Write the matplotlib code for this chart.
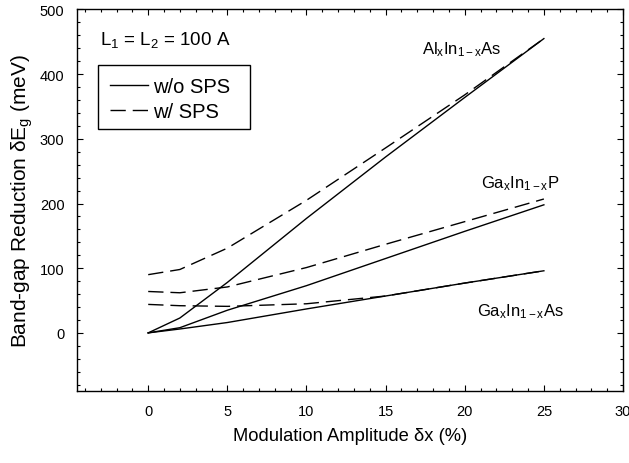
import matplotlib
matplotlib.use("Agg")
import matplotlib.pyplot as plt
from matplotlib.ticker import MultipleLocator
from matplotlib.patches import Rectangle

plt.rcParams['font.family'] = ['Liberation Sans', 'DejaVu Sans']
plt.rcParams['mathtext.fontset'] = 'custom'
plt.rcParams['mathtext.rm'] = 'Liberation Sans'
plt.rcParams['mathtext.it'] = 'Liberation Sans'

# Data (modulation amplitude in %, band-gap reduction in meV)
x = [0, 2, 5, 10, 15, 20, 25]
alinas_wo = [0, 23, 78, 177, 272, 364, 455]
alinas_w = [90, 98, 131, 205, 286, 368, 455]
gainp_wo = [0, 8, 35, 73, 115, 157, 198]
gainp_w = [64, 62, 71, 101, 137, 172, 207]
gainas_wo = [0, 6, 16, 37, 57, 77, 96]
gainas_w = [44, 42, 41, 45, 57, 77, 96]

labels = ['w/o SPS', 'w/ SPS']

fig = plt.figure(figsize=(6.29, 4.64), dpi=100)
ax = fig.add_axes([0.1224, 0.155, 0.8681, 0.8224])

lw = 1.0
dash = (0, (11, 5))
ax.plot(x, alinas_wo, color='black', lw=lw, label=labels[0])
ax.plot(x, alinas_w, color='black', lw=lw, linestyle=dash, label=labels[1])
ax.plot(x, gainp_wo, color='black', lw=lw)
ax.plot(x, gainp_w, color='black', lw=lw, linestyle=dash)
ax.plot(x, gainas_wo, color='black', lw=lw)
ax.plot(x, gainas_w, color='black', lw=lw, linestyle=dash)

ax.set_xlim(-4.5, 30)
ax.set_ylim(-90, 500)
ax.xaxis.set_minor_locator(MultipleLocator(1))
ax.yaxis.set_minor_locator(MultipleLocator(20))
ax.set_xticks([0, 5, 10, 15, 20, 25, 30])
ax.set_yticks([0, 100, 200, 300, 400, 500])
ax.tick_params(which='both', direction='in', top=True, right=True, labelsize=10.5, width=0.8)
ax.tick_params(which='major', length=4.5)
ax.tick_params(which='minor', length=2.5)
ax.tick_params(axis='x', which='major', pad=9)
ax.tick_params(axis='y', which='major', pad=9)
for s in ax.spines.values():
    s.set_linewidth(1.0)

ax.set_xlabel('Modulation Amplitude δx (%)', fontsize=13.2, labelpad=7)
ax.set_ylabel('Band-gap Reduction δE$_\\mathregular{g}$ (meV)', fontsize=15, labelpad=3.5)

ax.text(0.042, 0.923, 'L$_\\mathregular{1}$ = L$_\\mathregular{2}$ = 100 A', transform=ax.transAxes,
        fontsize=13.5, va='center', ha='left')
ax.text(17.3, 440, 'Al$_\\mathregular{x}$In$_\\mathregular{1-x}$As', fontsize=12, ha='left', va='center')
ax.text(21.0, 232, 'Ga$_\\mathregular{x}$In$_\\mathregular{1-x}$P', fontsize=12, ha='left', va='center')
ax.text(20.75, 34, 'Ga$_\\mathregular{x}$In$_\\mathregular{1-x}$As', fontsize=12, ha='left', va='center')

# legend box
ax.add_patch(Rectangle((0.038, 0.687), 0.279, 0.1675, transform=ax.transAxes,
                       facecolor='white', edgecolor='black', lw=1.0, zorder=4))
leg = ax.legend(loc='upper left', bbox_to_anchor=(0.0604, 0.823), borderaxespad=0,
                fontsize=14.5, frameon=False, handlelength=1.9, handletextpad=0.25,
                borderpad=0, labelspacing=0.28)
leg.set_zorder(5)

fig.savefig('out.png', dpi=100)
